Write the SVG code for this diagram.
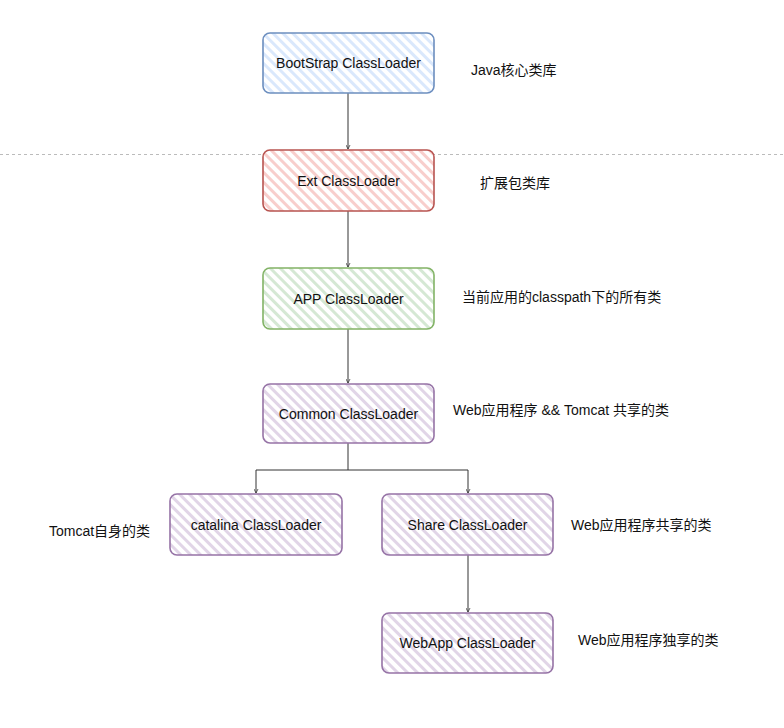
<svg xmlns="http://www.w3.org/2000/svg" width="784" height="728" viewBox="0 0 784 728">
<style>
.box{stroke-width:1.6}
.lbl{font-family:"Liberation Sans","Noto Sans CJK SC",sans-serif;font-size:14px;fill:#111}
.note{font-family:"Liberation Sans","Noto Sans CJK SC",sans-serif;font-size:14px;fill:#111}
.conn{fill:none;stroke:#333;stroke-width:1}
</style>
<defs>
<pattern id="hb" width="7" height="7" patternUnits="userSpaceOnUse" patternTransform="rotate(-45)"><rect width="7" height="7" fill="#fff"/><rect width="3" height="7" fill="#dae8fc"/></pattern>
<pattern id="hr" width="7" height="7" patternUnits="userSpaceOnUse" patternTransform="rotate(-45)"><rect width="7" height="7" fill="#fff"/><rect width="3" height="7" fill="#f8cecc"/></pattern>
<pattern id="hg" width="7" height="7" patternUnits="userSpaceOnUse" patternTransform="rotate(-45)"><rect width="7" height="7" fill="#fff"/><rect width="3" height="7" fill="#d5e8d4"/></pattern>
<pattern id="hp" width="7" height="7" patternUnits="userSpaceOnUse" patternTransform="rotate(-45)"><rect width="7" height="7" fill="#fff"/><rect width="3" height="7" fill="#e1d5e7"/></pattern>
<marker id="arr" viewBox="0 0 10 10" refX="9" refY="5" markerWidth="5" markerHeight="5" orient="auto"><path d="M1,1 L9,5 L1,9" fill="none" stroke="#333" stroke-width="1.5"/></marker>
</defs>
<rect width="784" height="728" fill="#fff"/>
<line x1="0" y1="154.5" x2="784" y2="154.5" stroke="#bbb" stroke-width="1" stroke-dasharray="3,3"/>
<g id="connectors">
<path class="conn" d="M348,93 V149" marker-end="url(#arr)"/>
<path class="conn" d="M348,211 V267" marker-end="url(#arr)"/>
<path class="conn" d="M348,329 V383" marker-end="url(#arr)"/>
<path class="conn" d="M348,443 V470 H256 V493" marker-end="url(#arr)"/>
<path class="conn" d="M348,470 H468 V493" marker-end="url(#arr)"/>
<path class="conn" d="M468,555 V612" stroke="#888" marker-end="url(#arr)"/>
</g>
<g id="bootstrap">
<rect class="box" x="263" y="33" width="171" height="60" rx="7" fill="url(#hb)" stroke="#6c8ebf"/>
<text class="lbl" x="348.5" y="68" text-anchor="middle">BootStrap ClassLoader</text>
</g>
<g id="ext">
<rect class="box" x="263" y="150" width="171" height="61" rx="7" fill="url(#hr)" stroke="#b85450"/>
<text class="lbl" x="348.5" y="186" text-anchor="middle">Ext ClassLoader</text>
</g>
<g id="app">
<rect class="box" x="263" y="268" width="171" height="61" rx="7" fill="url(#hg)" stroke="#82b366"/>
<text class="lbl" x="348.5" y="304" text-anchor="middle">APP ClassLoader</text>
</g>
<g id="common">
<rect class="box" x="263" y="384" width="171" height="59" rx="7" fill="url(#hp)" stroke="#9673a6"/>
<text class="lbl" x="348.5" y="419" text-anchor="middle">Common ClassLoader</text>
</g>
<g id="catalina">
<rect class="box" x="170" y="494" width="172" height="61" rx="7" fill="url(#hp)" stroke="#9673a6"/>
<text class="lbl" x="256" y="530" text-anchor="middle">catalina ClassLoader</text>
</g>
<g id="share">
<rect class="box" x="382" y="494" width="171" height="61" rx="7" fill="url(#hp)" stroke="#9673a6"/>
<text class="lbl" x="467.5" y="530" text-anchor="middle">Share ClassLoader</text>
</g>
<g id="webapp">
<rect class="box" x="382" y="613" width="171" height="60" rx="7" fill="url(#hp)" stroke="#9673a6"/>
<text class="lbl" x="467.5" y="648" text-anchor="middle">WebApp ClassLoader</text>
</g>
<g id="notes">
<text class="note" x="471" y="75">Java核心类库</text>
<text class="note" x="480" y="188">扩展包类库</text>
<text class="note" x="462" y="302">当前应用的classpath下的所有类</text>
<text class="note" x="453" y="415">Web应用程序 &amp;&amp; Tomcat 共享的类</text>
<text class="note" x="49" y="536">Tomcat自身的类</text>
<text class="note" x="571" y="530">Web应用程序共享的类</text>
<text class="note" x="578" y="645">Web应用程序独享的类</text>
</g>
</svg>
